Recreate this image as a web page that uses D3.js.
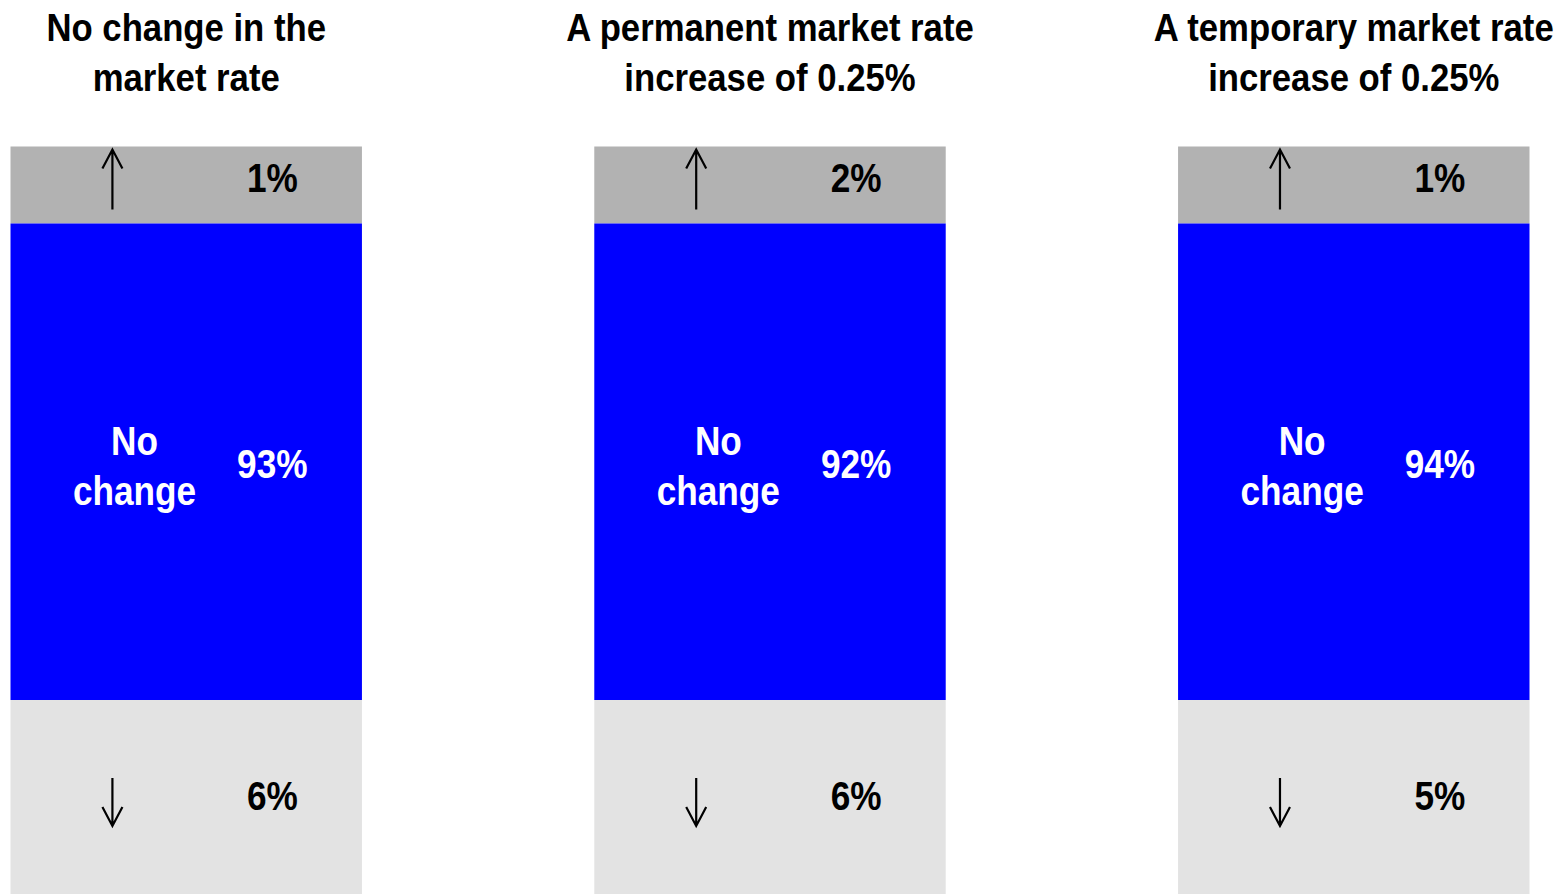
<!DOCTYPE html>
<html>
<head>
<meta charset="utf-8">
<script src="https://cdn.jsdelivr.net/npm/d3@7"></script>
<style>
  body { margin: 0; background: #fff; }
  svg { display: block; }
  text { font-family: "Liberation Sans", Arial, "Noto Sans", sans-serif; font-weight: bold; }
</style>
</head>
<body>
<svg id="chart" width="1560" height="894"></svg>
<script>
// Scenarios and their two-line headings
const scenarios = ["none", "permanent", "temporary"];
const titleLines = [
  ["No change in the", "market rate"],
  ["A permanent market rate", "increase of 0.25%"],
  ["A temporary market rate", "increase of 0.25%"]
];
// Share of respondents (%) expecting each direction of change
const upShares = [1, 2, 1];
const noChangeShares = [93, 92, 94];
const downShares = [6, 6, 5];
const middleLabel = ["No", "change"];

const svg = d3.select("#chart");

const x = d3.scaleBand().domain(scenarios).range([10.5, 1529.5]).paddingInner(0.398);
// Segments are stacked in fixed order: up, no change, down
const y = d3.scaleLinear().domain([0, 1, 2, 3]).range([146.5, 223.5, 700, 900]);
const bw = x.bandwidth();

const colors = { up: "#b2b2b2", none: "#0000ff", down: "#e3e3e3" };
const narrow = 0.88;      // condensed look for the in-bar labels
const titleNarrow = 0.89; // condensed look for the headings

const rows = scenarios.map((s, i) => ({
  key: s, title: titleLines[i],
  segs: [
    { k: "up", v: upShares[i], i0: 0 },
    { k: "none", v: noChangeShares[i], i0: 1 },
    { k: "down", v: downShares[i], i0: 2 }
  ]
}));

const g = svg.selectAll("g.bar").data(rows).join("g")
  .attr("class", "bar")
  .attr("transform", d => `translate(${x(d.key)},0)`);

g.selectAll("rect").data(d => d.segs).join("rect")
  .attr("x", 0).attr("width", bw)
  .attr("y", s => y(s.i0)).attr("height", s => y(s.i0 + 1) - y(s.i0))
  .attr("fill", s => colors[s.k]);

// Headings
g.append("text")
  .attr("transform", `translate(${bw / 2},41) scale(${titleNarrow},1)`)
  .attr("text-anchor", "middle")
  .attr("font-size", 39)
  .selectAll("tspan").data(d => d.title).join("tspan")
  .attr("x", 0)
  .attr("y", (t, j) => j * 50)
  .text(t => t);

// Label drawn at (cx, cy) with horizontal condensing
function label(sel, cx, cy, fill, textFn, dy) {
  sel.append("text")
    .attr("transform", `translate(${cx},${cy}) scale(${narrow},1)`)
    .attr("dy", dy)
    .attr("text-anchor", "middle").attr("font-size", 40).attr("fill", fill)
    .text(textFn);
}

// Value labels
const valX = bw * 0.745;
label(g, valX, y(0.4), "#000", d => d.segs[0].v + "%", "0.358em");
label(g, valX, y(1.5) + 2, "#fff", d => d.segs[1].v + "%", "0.358em");
label(g, valX, y(2.48), "#000", d => d.segs[2].v + "%", "0.358em");

// "No change" label in the middle segment
g.append("text")
  .attr("transform", `translate(${bw * 0.353},${y(1.5) - 7}) scale(${narrow},1)`)
  .attr("text-anchor", "middle").attr("font-size", 40).attr("fill", "#fff")
  .selectAll("tspan").data(middleLabel).join("tspan")
  .attr("x", 0)
  .attr("y", (t, j) => j * 50)
  .text(t => t);

// Direction arrows
const arrowX = bw * 0.29;
function arrow(sel, cy, len, dir) {
  const tip = cy + dir * len / 2, tail = cy - dir * len / 2;
  const p = d3.path();
  p.moveTo(arrowX, tail); p.lineTo(arrowX, tip);
  p.moveTo(arrowX - 10, tip - dir * 19); p.lineTo(arrowX, tip); p.lineTo(arrowX + 10, tip - dir * 19);
  sel.append("path").attr("d", p.toString())
    .attr("fill", "none").attr("stroke", "#000").attr("stroke-width", 2.2);
}
g.each(function () {
  const s = d3.select(this);
  arrow(s, y(0.43), 60, -1);
  arrow(s, y(2.51), 48, 1);
});
</script>
</body>
</html>
